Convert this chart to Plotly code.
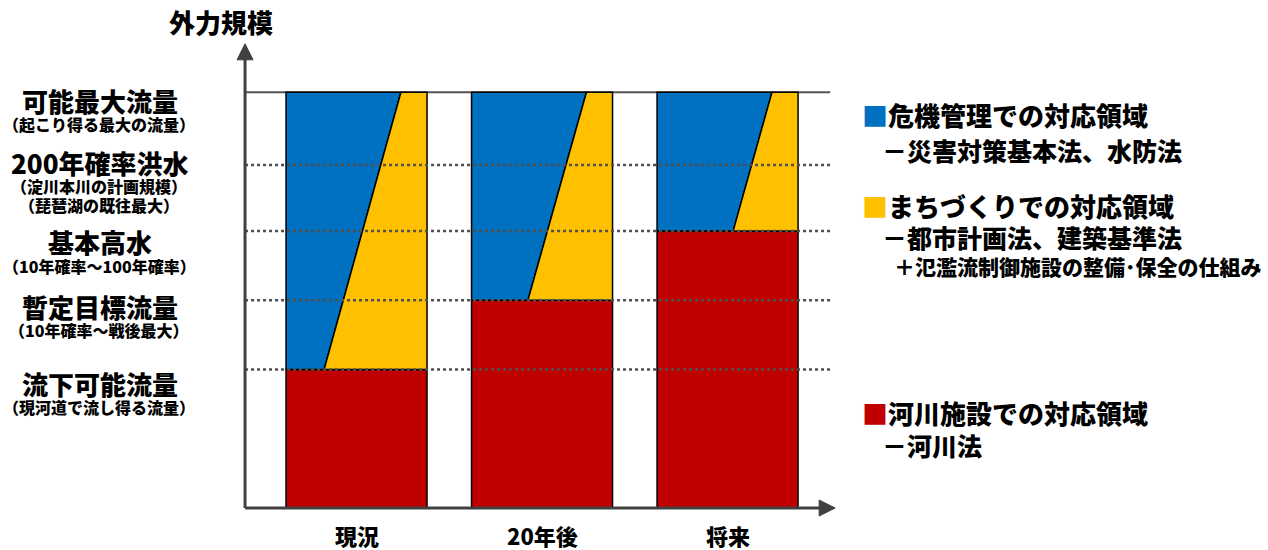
import plotly.graph_objects as go

# ---------------- data ----------------
periods = ["現況", "20年後", "将来"]
level_names = ["流下可能流量", "暫定目標流量", "基本高水", "200年確率洪水", "可能最大流量"]
level_notes = [
    ["（現河道で流し得る流量）"],
    ["（10年確率～戦後最大）"],
    ["（10年確率～100年確率）"],
    ["（淀川本川の計画規模）", "（琵琶湖の既往最大）"],
    ["（起こり得る最大の流量）"],
]
level_values = [2.0, 3.0, 4.0, 4.95, 6.0]
river_top = [2.0, 3.0, 4.0]          # 河川施設での対応領域 upper bound
total_top = [6.0, 6.0, 6.0]          # 可能最大流量
split_at_top = [0.815, 0.815, 0.815]  # blue/yellow split (fraction of bar width) at top
split_at_base = [0.27, 0.40, 0.54]    # blue/yellow split at river_top

legend_blue = ["危機管理での対応領域", "－災害対策基本法、水防法"]
legend_yellow = ["まちづくりでの対応領域", "－都市計画法、建築基準法", "＋氾濫流制御施設の整備･保全の仕組み"]
legend_red = ["河川施設での対応領域", "－河川法"]
y_title = "外力規模"

# ---------------- style / layout ----------------
BLUE, YELLOW, RED = "#0070C0", "#FFC000", "#C00000"
AX = "#404040"
FONT = "Noto Sans CJK JP"
WT = 900
L, R, T, B = 225, 418, 35, 25
W, H = 1268, 550
PW, PH = W - L - R, H - T - B
XR = [-0.709, 2.660]
YR = [-0.245, 6.827]
AXIS_X0 = -0.601      # y-axis position
AXIS_X_TIP = 2.580    # x-axis arrow tip
AXIS_Y_TIP = 6.70     # y-axis arrow tip
BAR_W = 0.76
X_LINE_END = 2.553


def px_x(px):
    return (px - L) / PW


def px_y(py):
    return (H - B - py) / PH


fig = go.Figure()

# red bars
fig.add_trace(go.Bar(
    x=list(range(len(periods))), y=river_top, base=0, width=BAR_W,
    marker=dict(color=RED, line=dict(color="black", width=1.5)),
    hoverinfo="skip", showlegend=False,
))

# blue / yellow polygons
for i in range(len(periods)):
    xl = i - BAR_W / 2
    xr = i + BAR_W / 2
    st = xl + split_at_top[i] * BAR_W
    sb = xl + split_at_base[i] * BAR_W
    fig.add_trace(go.Scatter(
        x=[xl, xl, st, sb, xl], y=[river_top[i], total_top[i], total_top[i], river_top[i], river_top[i]],
        fill="toself", fillcolor=BLUE, mode="lines", line=dict(color="black", width=1.5),
        hoverinfo="skip", showlegend=False,
    ))
    fig.add_trace(go.Scatter(
        x=[sb, st, xr, xr, sb], y=[river_top[i], total_top[i], total_top[i], river_top[i], river_top[i]],
        fill="toself", fillcolor=YELLOW, mode="lines", line=dict(color="black", width=1.5),
        hoverinfo="skip", showlegend=False,
    ))

shapes = []
# top solid line
shapes.append(dict(type="line", xref="x", yref="y", x0=AXIS_X0, x1=X_LINE_END,
                   y0=level_values[-1], y1=level_values[-1],
                   line=dict(color="#555555", width=2), layer="below"))
# dotted level lines
for v in level_values[:-1]:
    shapes.append(dict(type="line", xref="x", yref="y", x0=AXIS_X0, x1=X_LINE_END, y0=v, y1=v,
                       line=dict(color="#505050", width=2.5, dash="dot"), layer="above"))
# axes lines
shapes.append(dict(type="line", xref="x", yref="y", x0=AXIS_X0, x1=AXIS_X0, y0=0, y1=AXIS_Y_TIP - 0.15,
                   line=dict(color=AX, width=3), layer="above"))
shapes.append(dict(type="line", xref="x", yref="y", x0=AXIS_X0, x1=AXIS_X_TIP - 0.05, y0=0, y1=0,
                   line=dict(color=AX, width=3), layer="above"))
# arrow heads (pixel-sized)
shapes.append(dict(type="path", xref="x", yref="y", xsizemode="pixel", ysizemode="pixel",
                   xanchor=AXIS_X0, yanchor=AXIS_Y_TIP, path="M -8 -16 L 8 -16 L 0 0 Z",
                   fillcolor=AX, line=dict(color=AX, width=1), layer="above"))
shapes.append(dict(type="path", xref="x", yref="y", xsizemode="pixel", ysizemode="pixel",
                   xanchor=AXIS_X_TIP, yanchor=0, path="M -16 -8 L -16 8 L 0 0 Z",
                   fillcolor=AX, line=dict(color=AX, width=1), layer="above"))

ann = []
# y-axis title
ann.append(dict(text=y_title, xref="paper", yref="paper", x=px_x(221), y=px_y(22),
                xanchor="center", yanchor="middle", showarrow=False,
                font=dict(family=FONT, size=26, color="black", weight=WT)))

# level labels
main_centers = [383, 306, 242, 162, 100]
for name, notes, cy in zip(level_names, level_notes, main_centers):
    ann.append(dict(text=name, xref="paper", yref="paper", x=px_x(100), y=px_y(cy),
                    xanchor="center", yanchor="middle", showarrow=False,
                    font=dict(family=FONT, size=26, color="black", weight=WT)))
    for k, note in enumerate(notes):
        ann.append(dict(text=note, xref="paper", yref="paper", x=px_x(99), y=px_y(cy + 24 + 19 * k),
                        xanchor="center", yanchor="middle", showarrow=False,
                        font=dict(family=FONT, size=16, color="black", weight=WT)))

# category labels
for i, p in enumerate(periods):
    ann.append(dict(text=p, xref="x", yref="paper", x=i, y=px_y(535),
                    xanchor="center", yanchor="middle", showarrow=False,
                    font=dict(family=FONT, size=22, color="black", weight=WT)))

# legend texts
def legend_block(lines, color, ys, xs, sizes):
    out = []
    for j, (t, y, x, s) in enumerate(zip(lines, ys, xs, sizes)):
        txt = f'<span style="color:{color}">■</span>{t}' if j == 0 else t
        out.append(dict(text=txt, xref="paper", yref="paper", x=px_x(x), y=px_y(y),
                        xanchor="left", yanchor="middle", showarrow=False,
                        font=dict(family=FONT, size=s, color="black", weight=WT)))
    return out

ann += legend_block(legend_blue, BLUE, [115, 150], [860, 880], [26, 25])
ann += legend_block(legend_yellow, YELLOW, [205, 237, 266], [860, 880, 892], [26, 25, 21])
ann += legend_block(legend_red, RED, [412, 445], [860, 880], [26, 25])

fig.update_layout(
    width=W, height=H,
    margin=dict(l=L, r=R, t=T, b=B, pad=0),
    paper_bgcolor="white", plot_bgcolor="white",
    xaxis=dict(range=XR, visible=False, fixedrange=True),
    yaxis=dict(range=YR, visible=False, fixedrange=True),
    shapes=shapes, annotations=ann, showlegend=False,
    barmode="overlay",
)

fig.write_html("out.html", config={"displayModeBar": False})
